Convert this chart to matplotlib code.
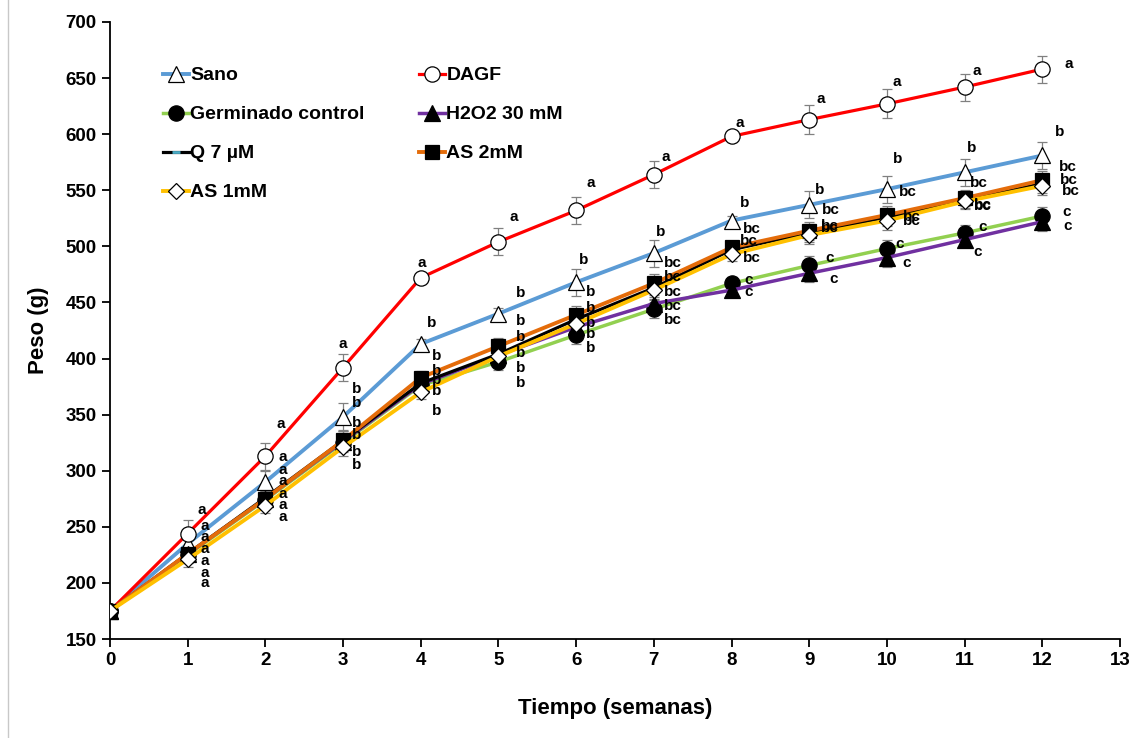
import matplotlib
matplotlib.use('Agg')
import matplotlib.pyplot as plt
from matplotlib.lines import Line2D

plt.rcParams['font.family'] = ['Liberation Sans', 'DejaVu Sans']
plt.rcParams['font.weight'] = 'bold'

# ---------------- data ----------------
weeks = [0, 1, 2, 3, 4, 5, 6, 7, 8, 9, 10, 11, 12]
x_ticks = list(range(14))
y_ticks = [150, 200, 250, 300, 350, 400, 450, 500, 550, 600, 650, 700]

sano = [175, 235, 290, 348, 413, 440, 468, 494, 523, 537, 551, 566, 581]
dagf = [175, 244, 313, 392, 472, 504, 532, 564, 598, 613, 627, 642, 658]
germ = [175, 225, 274, 325, 376, 397, 421, 444, 467, 483, 498, 512, 527]
h2o2 = [175, 226, 275, 326, 377, 403, 428, 449, 461, 476, 490, 506, 522]
q7 = [175, 226, 276, 327, 378, 404, 435, 463, 497, 512, 526, 541, 556]
as2 = [175, 226, 275, 327, 383, 411, 439, 467, 499, 514, 528, 543, 559]
as1 = [175, 221, 269, 321, 370, 402, 431, 461, 493, 510, 523, 540, 554]

sano_err = [0, 8, 10, 12, 4, 5, 12, 12, 4, 12, 12, 12, 12]
dagf_err = [0, 12, 12, 12, 4, 12, 12, 12, 4, 13, 13, 12, 12]
germ_err = [0, 7, 7, 8, 6, 7, 8, 8, 6, 8, 8, 7, 8]
h2o2_err = [0, 7, 7, 8, 6, 7, 8, 8, 6, 8, 8, 7, 8]
q7_err = [0, 7, 7, 8, 6, 7, 8, 8, 6, 8, 8, 7, 8]
as2_err = [0, 7, 7, 8, 6, 7, 8, 8, 6, 8, 8, 7, 8]
as1_err = [0, 7, 7, 8, 6, 7, 8, 8, 6, 8, 8, 7, 8]

sano_let = ['', 'a', 'a', 'b', 'b', 'b', 'b', 'b', 'b', 'b', 'b', 'b', 'b']
dagf_let = ['', 'a', 'a', 'a', 'a', 'a', 'a', 'a', 'a', 'a', 'a', 'a', 'a']
germ_let = ['', 'a', 'a', 'b', 'b', 'b', 'b', 'bc', 'c', 'c', 'c', 'c', 'c']
h2o2_let = ['', 'a', 'a', 'b', 'b', 'b', 'b', 'bc', 'c', 'c', 'c', 'c', 'c']
q7_let = ['', 'a', 'a', 'b', 'b', 'b', 'b', 'bc', 'bc', 'bc', 'bc', 'bc', 'bc']
as2_let = ['', 'a', 'a', 'b', 'b', 'b', 'b', 'bc', 'bc', 'bc', 'bc', 'bc', 'bc']
as1_let = ['', 'a', 'a', 'b', 'b', 'b', 'b', 'bc', 'bc', 'bc', 'bc', 'bc', 'bc']

labels = ['Sano', 'DAGF', 'Germinado control', 'H2O2 30 mM', 'Q 7 µM', 'AS 2mM', 'AS 1mM']

# ---------------- layout (letter offsets in screen pixels: dx right, dy down) ----------------
sano_off = [None, (17, -18), (17, -25), (14, -28), (11, -21), (22, -21), (7, -22), (7, -21),
            (13, -18), (10, -15), (11, -30), (7, -24), (17, -23)]
dagf_off = [None, (14, -24), (15, -32), (0, -24), (1, -15), (15, -25), (15, -27), (12, -18),
            (8, -13), (12, -21), (10, -22), (12, -16), (26, -5)]
as2_off = [None, (17, -17), (17, -29), (14, -37), (16, -22), (22, -25), (14, -23), (19, -20),
           (20, -18), (22, -21), (21, -23), (14, -15), (26, -13)]
q7_off = [None, (17, -5), (17, -17), (14, -17), (16, -12), (22, -17), (14, -11), (19, -11),
          (17, -9), (21, -7), (25, 0), (18, 5), (27, -4)]
as1_off = [None, (17, 2), (17, -12), (14, -12), (16, -1), (22, 12), (14, 10), (19, 2),
           (20, 4), (21, -7), (25, 0), (18, 5), (29, 5)]
h2o2_off = [None, (17, 19), (17, 6), (14, 10), (16, -4), (22, -2), (14, -4), (19, 2),
            (17, 2), (24, 6), (20, 5), (13, 12), (25, 4)]
germ_off = [None, (17, 28), (17, 17), (14, 22), (16, 26), (22, 21), (14, 13), (19, 11),
            (17, -3), (20, -7), (13, -5), (18, -6), (24, -4)]

# ---------------- figure ----------------
fig = plt.figure(figsize=(11.31, 7.38), dpi=100)
ax = fig.add_axes([110 / 1131, 1 - 639 / 738, 1010 / 1131, 617 / 738])

series = [
    (sano, sano_err, dict(color='#5b9bd5', lw=2.8, marker='^', ms=11, mfc='white', mec='black', mew=0.9), labels[0]),
    (dagf, dagf_err, dict(color='#ff0000', lw=2.3, marker='o', ms=11, mfc='white', mec='black', mew=0.9), labels[1]),
    (germ, germ_err, dict(color='#92d050', lw=2.5, marker='o', ms=11, mfc='black', mec='black', mew=0.9), labels[2]),
    (h2o2, h2o2_err, dict(color='#7030a0', lw=2.5, marker='^', ms=11, mfc='black', mec='black', mew=0.9), labels[3]),
    (q7, q7_err, dict(color='black', lw=2.3, marker='_', ms=6, mfc='#4bacc6', mec='#4bacc6', mew=2), labels[4]),
    (as2, as2_err, dict(color='#e46c0a', lw=2.8, marker='s', ms=10, mfc='black', mec='black', mew=0.9), labels[5]),
    (as1, as1_err, dict(color='#ffc000', lw=2.8, marker='D', ms=8.5, mfc='white', mec='black', mew=0.9), labels[6]),
]

handles = {}
for i, (vals, err, st, lab) in enumerate(series):
    ax.errorbar(weeks, vals, yerr=err, fmt='none', ecolor='#808080', elinewidth=0.9,
                capsize=3.5, capthick=0.9, zorder=2 + i * 0.1)
    ln, = ax.plot(weeks, vals, zorder=3 + i * 0.1, **st)
    handles[lab] = ln

letter_sets = [(sano, sano_let, sano_off), (dagf, dagf_let, dagf_off), (as2, as2_let, as2_off),
               (q7, q7_let, q7_off), (as1, as1_let, as1_off), (h2o2, h2o2_let, h2o2_off),
               (germ, germ_let, germ_off)]
for vals, lets, offs in letter_sets:
    for w, v, t, o in zip(weeks, vals, lets, offs):
        if t and o is not None:
            ax.annotate(t, (w, v), xytext=(o[0], -o[1]), textcoords='offset pixels',
                        ha='center', va='center', fontsize=11, fontweight='bold', zorder=10)

ax.set_xlim(0, 13)
ax.set_ylim(150, 700)
ax.set_xticks(x_ticks)
ax.set_yticks(y_ticks)
ax.spines['top'].set_visible(False)
ax.spines['right'].set_visible(False)
for s in ['left', 'bottom']:
    ax.spines[s].set_linewidth(1.3)
ax.tick_params(axis='both', direction='out', length=6, width=1.3, labelsize=13.5)
for lbl in ax.get_xticklabels() + ax.get_yticklabels():
    lbl.set_fontweight('bold')
ax.set_xlabel('Tiempo (semanas)', fontsize=16, fontweight='bold', labelpad=21)
ax.set_ylabel('Peso (g)', fontsize=16, fontweight='bold', labelpad=12)

order = ['Sano', 'Germinado control', 'Q 7 µM', 'AS 1mM', 'DAGF', 'H2O2 30 mM', 'AS 2mM']
leg = ax.legend([handles[k] for k in order], order, ncol=2, loc='upper left',
                bbox_to_anchor=(0.045, 0.94), frameon=False, fontsize=14,
                handlelength=1.3, handletextpad=0.1, labelspacing=1.1, columnspacing=2.8,
                borderaxespad=0)
for t in leg.get_texts():
    t.set_fontweight('bold')

fig.add_artist(Line2D([8 / 1131, 8 / 1131], [0.0, 1.0], color='#c8c8c8', lw=1.0))

fig.savefig('out.png', dpi=100)
